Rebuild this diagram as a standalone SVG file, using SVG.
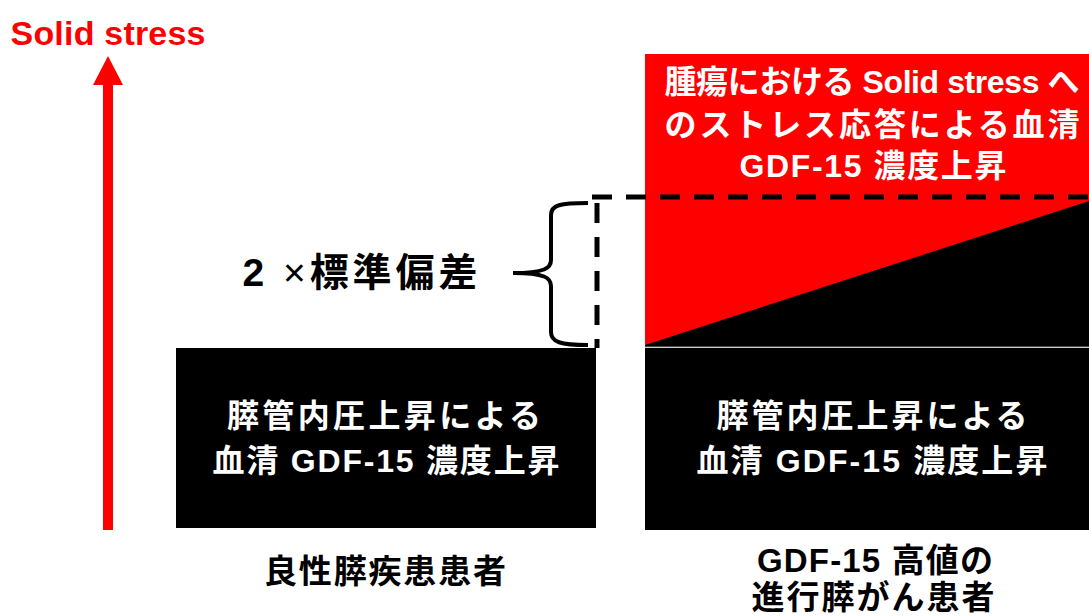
<svg xmlns="http://www.w3.org/2000/svg" width="1089" height="616" viewBox="0 0 1089 616">
<style>
text{font-family:"Liberation Sans","Noto Sans CJK JP",sans-serif;font-weight:bold;text-anchor:middle}
.w{fill:#fff;font-size:32px}
.k{fill:#000;font-size:33px}
.dash{stroke:#000;stroke-width:5;stroke-dasharray:20 14;fill:none}
</style>
<rect width="1089" height="616" fill="#fff"/>
<g id="axis">
<text x="108" y="45" fill="#ff0000" style="font-size:34px" textLength="195">Solid stress</text>
<rect x="103" y="84" width="10" height="446" fill="#ff0000"/>
<polygon points="108,56 123,85 93,85" fill="#ff0000"/>
</g>
<g id="benign">
<rect x="176" y="348" width="420" height="180" fill="#000"/>
<text class="w" x="384" y="427" textLength="314">膵管内圧上昇による</text>
<text class="w" x="386" y="472" textLength="347">血清 GDF-15 濃度上昇</text>
</g>
<g id="cancer">
<rect x="645" y="54" width="444" height="293" fill="#ff0000"/>
<polygon points="645,345 1089,201 1089,347 645,347" fill="#000"/>
<line x1="645" y1="347" x2="1089" y2="347" stroke="#999" stroke-width="1"/>
<rect x="645" y="348" width="444" height="182" fill="#000"/>
<text class="w" x="872" y="93" textLength="415">腫瘍における Solid stress へ</text>
<text class="w" x="872" y="136" textLength="415">のストレス応答による血清</text>
<text class="w" x="873" y="177" textLength="267">GDF-15 濃度上昇</text>
<text class="w" x="872" y="427" textLength="311">膵管内圧上昇による</text>
<text class="w" x="872" y="472" textLength="351">血清 GDF-15 濃度上昇</text>
</g>
<g id="connectors">
<path class="dash" d="M592,197 H1089"/>
<path class="dash" d="M597,203 V348"/>
<path d="M588,203 C560,203 551,205 551,215 V260 C551,268 545,273 513,273 C545,273 551,278 551,286 V332 C551,342 560,345 588,345" fill="none" stroke="#000" stroke-width="4"/>
</g>
<g id="sd">
<text class="k" x="360" y="286" style="font-size:39px" textLength="235">2 <tspan style="font-weight:normal">×</tspan>標準偏差</text>
</g>
<g id="labels">
<text class="k" x="385" y="583" textLength="242">良性膵疾患患者</text>
<text class="k" x="875" y="572" textLength="236">GDF-15 高値の</text>
<text class="k" x="873" y="609" textLength="243">進行膵がん患者</text>
</g>
</svg>
